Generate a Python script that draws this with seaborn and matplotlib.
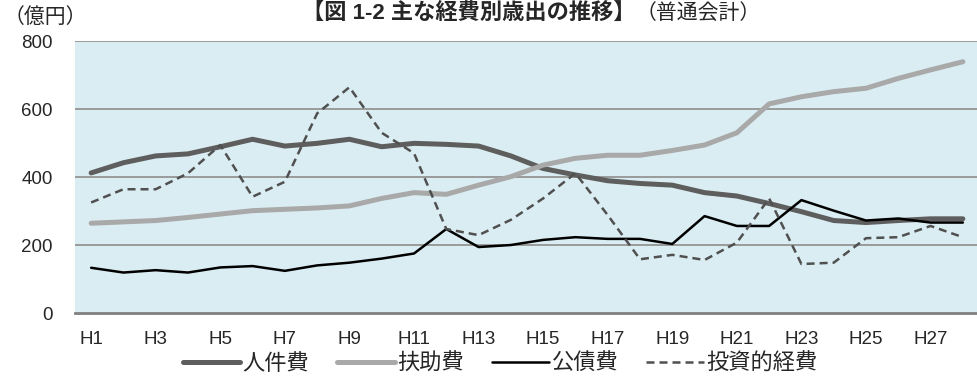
import numpy as np
import pandas as pd
import matplotlib
matplotlib.use("Agg")
import matplotlib.pyplot as plt
import seaborn as sns

# Fiscal years H1..H28
years = [f"H{i}" for i in range(1, 29)]

# Expenditure by category (100 million yen)
personnel = [412, 442, 462, 468, 489, 511, 491, 499, 511, 489,
             499, 496, 491, 462, 425, 406, 389, 381, 376, 354,
             344, 322, 298, 272, 266, 272, 277, 277]
assistance = [264, 268, 272, 281, 291, 301, 305, 309, 315, 337,
              354, 349, 376, 401, 435, 455, 464, 464, 478, 494,
              530, 615, 636, 651, 661, 690, 715, 739]
debt_service = [133, 119, 126, 119, 134, 138, 124, 140, 148, 160,
                175, 247, 194, 200, 215, 223, 218, 218, 203, 285,
                256, 256, 332, 301, 272, 278, 266, 266]
investment = [325, 364, 364, 411, 494, 342, 386, 587, 664, 530,
              470, 247, 229, 274, 337, 411, 288, 158, 171, 156,
              207, 337, 144, 148, 220, 223, 256, 223]

series_names = ["人件費", "扶助費", "公債費", "投資的経費"]
yticks = [0, 200, 400, 600, 800]

sns.set_theme(style="white")
plt.rcParams["font.family"] = ["Liberation Sans", "Noto Sans CJK JP"]

df = pd.DataFrame({"year": years, "pos": np.arange(len(years))})
for name, vals in zip(series_names, [personnel, assistance, debt_service, investment]):
    df[name] = vals

fig = plt.figure(figsize=(9.78, 3.78), dpi=100)
ax = fig.add_axes([75 / 978, 1 - 313 / 378, 904 / 978, 272 / 378])
ax.set_facecolor("#DAEDF3")

styles = {
    "人件費": dict(color="#5e5e5e", lw=3.6),
    "扶助費": dict(color="#a9a9a9", lw=3.6),
    "公債費": dict(color="#000000", lw=1.8),
    "投資的経費": dict(color="#505050", lw=1.8, dashes=(3.2, 2.0)),
}
for name in series_names:
    st = dict(styles[name])
    dashes = st.pop("dashes", None)
    sns.lineplot(data=df, x="pos", y=name, ax=ax, label=name,
                 color=st["color"], linewidth=st["lw"])
    if dashes:
        ax.lines[-1].set_dashes(dashes)
    ax.lines[-1].set_solid_capstyle("round")
    ax.lines[-1].set_solid_joinstyle("round")

ax.set_xlim(-0.5, len(years) - 0.5)
ax.set_ylim(0, 800)
ax.set_yticks(yticks)
ax.set_yticklabels([str(v) for v in yticks], fontsize=13.5)
ax.set_xticks(np.arange(0, len(years), 2))
ax.set_xticklabels(years[::2], fontsize=13.5)
ax.set_xlabel("")
ax.set_ylabel("")
ax.tick_params(axis="both", length=0)
ax.tick_params(axis="y", pad=16)
ax.tick_params(axis="x", pad=13)

for v in yticks[1:]:
    ax.axhline(v, color="#9a9a9a", lw=1.4, zorder=1)
for s in ["left", "right", "top"]:
    ax.spines[s].set_visible(False)
ax.spines["bottom"].set_color("#808080")
ax.spines["bottom"].set_linewidth(2.0)

ax.legend(loc="center", bbox_to_anchor=(500 / 978, 1 - 364 / 378),
          bbox_transform=fig.transFigure, ncol=4, frameon=False,
          fontsize=16, handlelength=2.6, handletextpad=0.1,
          columnspacing=1.25, borderpad=0)

fig.text(4 / 978, 1 - 17 / 378, "（億円）", fontsize=15, ha="left", va="center")
fig.text(636 / 978, 1 - 19 / 378, "【図 1-2 主な経費別歳出の推移】",
         fontsize=16, fontweight="bold", ha="right", va="baseline")
fig.text(636 / 978, 1 - 19 / 378, "（普通会計）",
         fontsize=15, ha="left", va="baseline")

fig.savefig("out.png", dpi=100)
